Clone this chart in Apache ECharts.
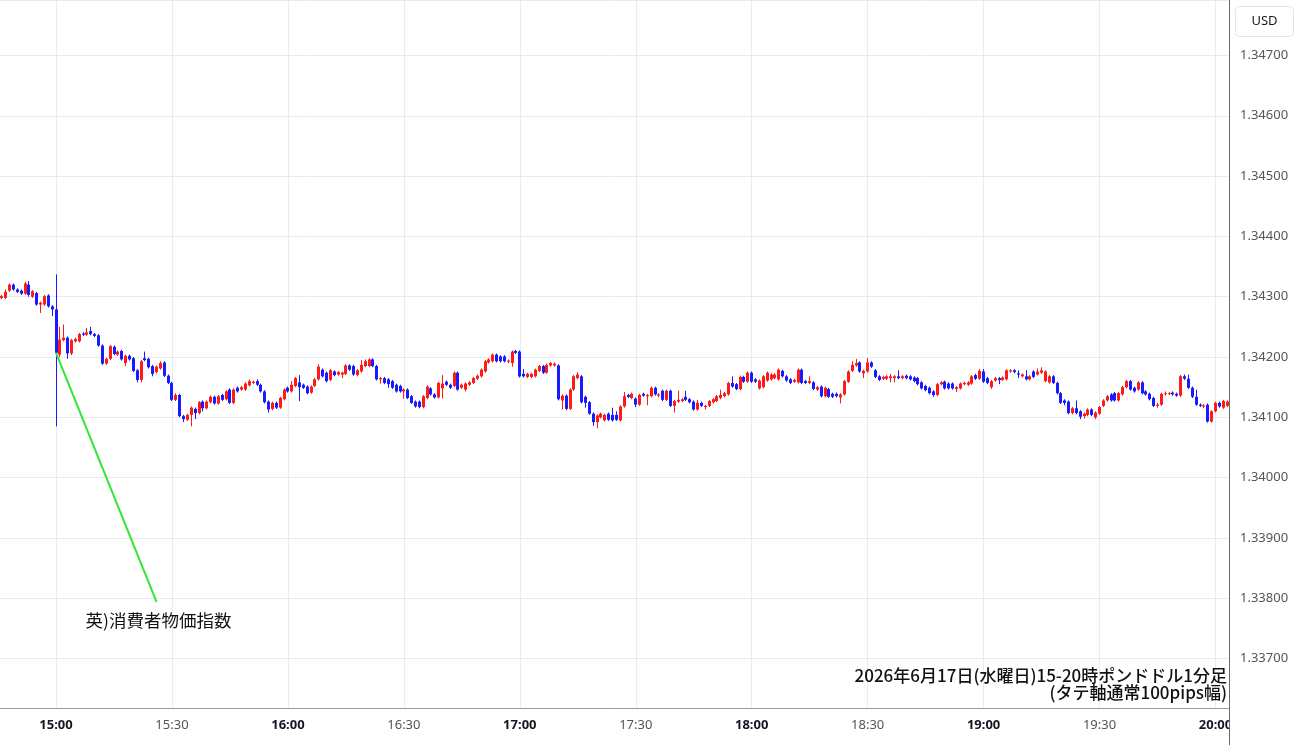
<!DOCTYPE html>
<html lang="ja">
<head>
    <meta charset="UTF-8">
    <title>ポンドドル1分足</title>
    <script src="https://cdn.jsdelivr.net/npm/echarts@6/dist/echarts.min.js"></script>
    <style>
        html, body { margin: 0; padding: 0; background: #fff; }
        #chart { width: 1300px; height: 745px; }
    </style>
</head>
<body>
<div id="chart"></div>
<script>
    // 1分足 14:46 - 20:03
    var times = []
    for (var m = 14 * 60 + 46; m <= 20 * 60 + 3; m++) {
        var hh = Math.floor(m / 60), mm = m % 60
        times.push((hh < 10 ? '0' : '') + hh + ':' + (mm < 10 ? '0' : '') + mm)
    }

    var opens = [
        1.34298,1.34298,1.34310,1.34320,1.34312,1.34310,1.34305,1.34320,1.34300,1.34306,
        1.34287,1.34287,1.34302,1.34284,1.34279,1.34204,1.34228,1.34232,1.34206,1.34226,
        1.34226,1.34239,1.34237,1.34243,1.34238,1.34236,1.34219,1.34189,1.34197,1.34217,
        1.34204,1.34210,1.34190,1.34202,1.34198,1.34178,1.34162,1.34198,1.34197,1.34185,
        1.34175,1.34181,1.34191,1.34169,1.34157,1.34129,1.34137,1.34102,1.34096,1.34104,
        1.34114,1.34107,1.34126,1.34115,1.34125,1.34134,1.34123,1.34137,1.34130,1.34146,
        1.34124,1.34149,1.34146,1.34146,1.34153,1.34157,1.34160,1.34154,1.34143,1.34126,
        1.34114,1.34124,1.34116,1.34130,1.34149,1.34143,1.34152,1.34158,1.34154,1.34151,
        1.34141,1.34152,1.34163,1.34179,1.34174,1.34162,1.34176,1.34171,1.34171,1.34172,
        1.34186,1.34185,1.34170,1.34176,1.34185,1.34185,1.34196,1.34185,1.34163,1.34165,
        1.34163,1.34160,1.34154,1.34152,1.34143,1.34146,1.34135,1.34126,1.34126,1.34117,
        1.34132,1.34148,1.34138,1.34133,1.34148,1.34159,1.34154,1.34152,1.34174,1.34149,
        1.34146,1.34154,1.34157,1.34164,1.34168,1.34176,1.34191,1.34193,1.34204,1.34201,
        1.34201,1.34192,1.34190,1.34210,1.34209,1.34172,1.34167,1.34167,1.34168,1.34177,
        1.34185,1.34174,1.34186,1.34186,1.34186,1.34128,1.34136,1.34114,1.34146,1.34165,
        1.34168,1.34134,1.34125,1.34106,1.34092,1.34100,1.34095,1.34106,1.34104,1.34104,
        1.34095,1.34118,1.34137,1.34132,1.34131,1.34121,1.34139,1.34135,1.34135,1.34149,
        1.34136,1.34144,1.34129,1.34144,1.34119,1.34126,1.34127,1.34134,1.34130,1.34126,
        1.34113,1.34124,1.34117,1.34119,1.34125,1.34127,1.34132,1.34135,1.34138,1.34157,
        1.34155,1.34147,1.34167,1.34159,1.34174,1.34163,1.34148,1.34150,1.34161,1.34163,
        1.34165,1.34163,1.34177,1.34168,1.34163,1.34159,1.34158,1.34179,1.34160,1.34157,
        1.34158,1.34146,1.34151,1.34135,1.34147,1.34139,1.34139,1.34133,1.34138,1.34159,
        1.34177,1.34186,1.34191,1.34173,1.34176,1.34191,1.34178,1.34168,1.34164,1.34164,
        1.34165,1.34165,1.34168,1.34165,1.34169,1.34168,1.34166,1.34165,1.34158,1.34152,
        1.34149,1.34143,1.34137,1.34155,1.34159,1.34156,1.34156,1.34147,1.34148,1.34155,
        1.34154,1.34156,1.34170,1.34164,1.34176,1.34165,1.34150,1.34161,1.34165,1.34162,
        1.34163,1.34176,1.34178,1.34173,1.34168,1.34168,1.34163,1.34176,1.34171,1.34174,
        1.34160,1.34158,1.34168,1.34157,1.34140,1.34128,1.34126,1.34107,1.34115,1.34110,
        1.34102,1.34104,1.34113,1.34100,1.34106,1.34119,1.34128,1.34138,1.34140,1.34128,
        1.34138,1.34150,1.34160,1.34149,1.34146,1.34158,1.34143,1.34139,1.34132,1.34119,
        1.34121,1.34139,1.34139,1.34141,1.34139,1.34136,1.34168,1.34164,1.34149,1.34134,
        1.34121,1.34118,1.34121,1.34093,1.34110,1.34124,1.34116,1.34119
    ]
    var closes = [
        1.34301,1.34308,1.34320,1.34312,1.34308,1.34305,1.34322,1.34303,1.34309,1.34287,
        1.34290,1.34301,1.34284,1.34279,1.34207,1.34229,1.34232,1.34206,1.34228,1.34230,
        1.34238,1.34237,1.34241,1.34238,1.34235,1.34219,1.34189,1.34197,1.34218,1.34205,
        1.34209,1.34196,1.34202,1.34196,1.34177,1.34162,1.34193,1.34195,1.34183,1.34172,
        1.34184,1.34190,1.34169,1.34157,1.34129,1.34137,1.34102,1.34097,1.34104,1.34116,
        1.34107,1.34125,1.34115,1.34126,1.34134,1.34123,1.34135,1.34129,1.34143,1.34124,
        1.34146,1.34143,1.34150,1.34156,1.34160,1.34159,1.34154,1.34143,1.34125,1.34113,
        1.34124,1.34116,1.34132,1.34146,1.34143,1.34154,1.34165,1.34150,1.34149,1.34140,
        1.34151,1.34163,1.34184,1.34168,1.34160,1.34178,1.34170,1.34175,1.34174,1.34186,
        1.34179,1.34171,1.34178,1.34187,1.34193,1.34196,1.34185,1.34163,1.34165,1.34157,
        1.34155,1.34149,1.34143,1.34143,1.34146,1.34132,1.34124,1.34118,1.34117,1.34135,
        1.34151,1.34138,1.34133,1.34157,1.34156,1.34154,1.34149,1.34174,1.34146,1.34154,
        1.34156,1.34158,1.34165,1.34169,1.34179,1.34193,1.34196,1.34204,1.34193,1.34193,
        1.34193,1.34194,1.34209,1.34207,1.34168,1.34168,1.34172,1.34172,1.34179,1.34185,
        1.34174,1.34187,1.34190,1.34189,1.34130,1.34136,1.34114,1.34146,1.34168,1.34171,
        1.34125,1.34124,1.34106,1.34092,1.34103,1.34106,1.34104,1.34096,1.34095,1.34096,
        1.34118,1.34135,1.34134,1.34139,1.34121,1.34137,1.34136,1.34137,1.34149,1.34138,
        1.34138,1.34129,1.34144,1.34119,1.34127,1.34129,1.34130,1.34129,1.34125,1.34113,
        1.34124,1.34119,1.34119,1.34127,1.34130,1.34135,1.34137,1.34140,1.34157,1.34151,
        1.34147,1.34167,1.34159,1.34174,1.34159,1.34159,1.34161,1.34168,1.34174,1.34171,
        1.34171,1.34179,1.34168,1.34161,1.34157,1.34162,1.34179,1.34157,1.34157,1.34160,
        1.34147,1.34150,1.34135,1.34149,1.34134,1.34134,1.34135,1.34138,1.34160,1.34176,
        1.34187,1.34190,1.34176,1.34177,1.34191,1.34184,1.34167,1.34162,1.34167,1.34168,
        1.34168,1.34168,1.34165,1.34168,1.34165,1.34163,1.34160,1.34155,1.34148,1.34145,
        1.34140,1.34137,1.34155,1.34158,1.34148,1.34148,1.34148,1.34150,1.34156,1.34157,
        1.34158,1.34168,1.34164,1.34177,1.34159,1.34157,1.34160,1.34165,1.34162,1.34166,
        1.34178,1.34178,1.34175,1.34171,1.34171,1.34163,1.34168,1.34167,1.34176,1.34178,
        1.34176,1.34168,1.34157,1.34140,1.34124,1.34124,1.34107,1.34115,1.34107,1.34101,
        1.34106,1.34113,1.34104,1.34108,1.34117,1.34128,1.34135,1.34128,1.34128,1.34140,
        1.34150,1.34160,1.34146,1.34143,1.34158,1.34140,1.34138,1.34130,1.34119,1.34121,
        1.34139,1.34140,1.34140,1.34138,1.34136,1.34168,1.34164,1.34149,1.34134,1.34121,
        1.34119,1.34120,1.34093,1.34110,1.34124,1.34118,1.34127,1.34126
    ]
    var lows = [
        1.34296,1.34296,1.34308,1.34310,1.34306,1.34303,1.34303,1.34300,1.34298,1.34285,
        1.34273,1.34285,1.34282,1.34268,1.34085,1.34200,1.34226,1.34197,1.34203,1.34224,
        1.34224,1.34235,1.34235,1.34236,1.34233,1.34217,1.34187,1.34187,1.34195,1.34203,
        1.34202,1.34194,1.34185,1.34194,1.34175,1.34158,1.34158,1.34193,1.34181,1.34168,
        1.34173,1.34179,1.34167,1.34155,1.34127,1.34127,1.34100,1.34092,1.34094,1.34085,
        1.34097,1.34105,1.34110,1.34113,1.34123,1.34121,1.34121,1.34127,1.34128,1.34122,
        1.34122,1.34141,1.34144,1.34144,1.34151,1.34155,1.34152,1.34141,1.34123,1.34108,
        1.34112,1.34114,1.34114,1.34128,1.34141,1.34141,1.34150,1.34127,1.34147,1.34138,
        1.34139,1.34150,1.34161,1.34166,1.34158,1.34160,1.34168,1.34169,1.34165,1.34170,
        1.34177,1.34169,1.34168,1.34174,1.34183,1.34183,1.34183,1.34161,1.34156,1.34155,
        1.34149,1.34147,1.34141,1.34141,1.34131,1.34130,1.34122,1.34116,1.34115,1.34115,
        1.34130,1.34136,1.34131,1.34131,1.34131,1.34152,1.34147,1.34150,1.34144,1.34147,
        1.34143,1.34152,1.34155,1.34162,1.34166,1.34174,1.34189,1.34191,1.34191,1.34191,
        1.34191,1.34190,1.34184,1.34205,1.34166,1.34166,1.34165,1.34165,1.34166,1.34175,
        1.34172,1.34172,1.34184,1.34184,1.34128,1.34113,1.34112,1.34112,1.34144,1.34163,
        1.34123,1.34116,1.34104,1.34086,1.34082,1.34098,1.34093,1.34094,1.34093,1.34094,
        1.34093,1.34116,1.34132,1.34130,1.34117,1.34119,1.34134,1.34120,1.34133,1.34136,
        1.34133,1.34127,1.34127,1.34117,1.34108,1.34124,1.34125,1.34127,1.34123,1.34111,
        1.34111,1.34117,1.34113,1.34117,1.34123,1.34125,1.34130,1.34133,1.34136,1.34149,
        1.34145,1.34145,1.34157,1.34157,1.34157,1.34157,1.34146,1.34148,1.34159,1.34161,
        1.34163,1.34161,1.34166,1.34159,1.34155,1.34157,1.34156,1.34155,1.34155,1.34155,
        1.34145,1.34144,1.34133,1.34133,1.34132,1.34132,1.34133,1.34123,1.34136,1.34157,
        1.34175,1.34184,1.34174,1.34165,1.34174,1.34182,1.34165,1.34160,1.34162,1.34162,
        1.34158,1.34158,1.34163,1.34163,1.34163,1.34161,1.34158,1.34153,1.34146,1.34143,
        1.34138,1.34134,1.34135,1.34153,1.34146,1.34146,1.34146,1.34142,1.34146,1.34153,
        1.34152,1.34154,1.34162,1.34162,1.34157,1.34155,1.34147,1.34159,1.34155,1.34160,
        1.34161,1.34174,1.34173,1.34165,1.34166,1.34161,1.34161,1.34165,1.34169,1.34172,
        1.34158,1.34156,1.34155,1.34138,1.34122,1.34120,1.34105,1.34105,1.34105,1.34097,
        1.34098,1.34102,1.34102,1.34097,1.34104,1.34117,1.34126,1.34126,1.34126,1.34126,
        1.34136,1.34148,1.34144,1.34141,1.34144,1.34138,1.34136,1.34128,1.34117,1.34116,
        1.34119,1.34136,1.34137,1.34136,1.34134,1.34134,1.34162,1.34147,1.34132,1.34119,
        1.34117,1.34115,1.34091,1.34091,1.34108,1.34116,1.34114,1.34117
    ]
    var highs = [
        1.34303,1.34312,1.34322,1.34322,1.34314,1.34312,1.34325,1.34326,1.34311,1.34308,
        1.34292,1.34303,1.34304,1.34286,1.34337,1.34250,1.34254,1.34234,1.34230,1.34232,
        1.34240,1.34241,1.34248,1.34250,1.34240,1.34238,1.34221,1.34199,1.34220,1.34219,
        1.34211,1.34212,1.34204,1.34204,1.34200,1.34180,1.34195,1.34209,1.34199,1.34187,
        1.34186,1.34193,1.34193,1.34171,1.34159,1.34140,1.34139,1.34104,1.34106,1.34118,
        1.34116,1.34127,1.34128,1.34128,1.34136,1.34136,1.34137,1.34139,1.34145,1.34148,
        1.34148,1.34151,1.34152,1.34158,1.34163,1.34161,1.34163,1.34156,1.34145,1.34128,
        1.34126,1.34126,1.34134,1.34148,1.34151,1.34160,1.34167,1.34170,1.34156,1.34153,
        1.34153,1.34165,1.34188,1.34181,1.34176,1.34180,1.34178,1.34177,1.34176,1.34188,
        1.34188,1.34187,1.34180,1.34195,1.34196,1.34198,1.34198,1.34187,1.34167,1.34167,
        1.34165,1.34162,1.34156,1.34154,1.34148,1.34148,1.34137,1.34128,1.34128,1.34137,
        1.34153,1.34150,1.34140,1.34159,1.34170,1.34161,1.34156,1.34176,1.34176,1.34156,
        1.34158,1.34160,1.34167,1.34171,1.34181,1.34195,1.34198,1.34206,1.34206,1.34203,
        1.34203,1.34196,1.34211,1.34212,1.34211,1.34180,1.34174,1.34174,1.34181,1.34187,
        1.34187,1.34189,1.34192,1.34191,1.34188,1.34138,1.34138,1.34148,1.34170,1.34175,
        1.34170,1.34136,1.34127,1.34108,1.34105,1.34108,1.34106,1.34108,1.34116,1.34110,
        1.34120,1.34142,1.34139,1.34141,1.34133,1.34139,1.34141,1.34139,1.34151,1.34151,
        1.34140,1.34146,1.34146,1.34146,1.34129,1.34144,1.34132,1.34144,1.34132,1.34128,
        1.34129,1.34126,1.34121,1.34129,1.34132,1.34137,1.34146,1.34142,1.34159,1.34168,
        1.34157,1.34169,1.34169,1.34176,1.34176,1.34165,1.34163,1.34170,1.34176,1.34173,
        1.34173,1.34181,1.34179,1.34170,1.34165,1.34164,1.34181,1.34181,1.34162,1.34168,
        1.34160,1.34152,1.34153,1.34151,1.34149,1.34141,1.34141,1.34140,1.34162,1.34178,
        1.34193,1.34197,1.34193,1.34179,1.34198,1.34193,1.34180,1.34170,1.34169,1.34170,
        1.34172,1.34170,1.34178,1.34170,1.34171,1.34170,1.34168,1.34167,1.34160,1.34154,
        1.34151,1.34145,1.34157,1.34160,1.34161,1.34158,1.34158,1.34152,1.34158,1.34159,
        1.34160,1.34170,1.34172,1.34180,1.34180,1.34167,1.34162,1.34167,1.34167,1.34168,
        1.34180,1.34180,1.34180,1.34178,1.34173,1.34178,1.34170,1.34178,1.34181,1.34183,
        1.34178,1.34170,1.34170,1.34159,1.34142,1.34130,1.34128,1.34117,1.34128,1.34112,
        1.34108,1.34115,1.34115,1.34110,1.34119,1.34130,1.34137,1.34140,1.34142,1.34142,
        1.34152,1.34162,1.34162,1.34151,1.34160,1.34160,1.34145,1.34141,1.34134,1.34124,
        1.34141,1.34143,1.34142,1.34143,1.34141,1.34170,1.34171,1.34171,1.34151,1.34146,
        1.34123,1.34122,1.34123,1.34112,1.34126,1.34126,1.34129,1.34128
    ]

    // 英)消費者物価指数 の発表 (15:00) と注記位置
    var eventTime = '15:00'
    var eventPrice = 1.34207
    var noteTime = '15:26'
    var noteLinePrice = 1.33794
    var noteTextPrice = 1.33764
    var noteText = '英)消費者物価指数'
    var titleText = '2026年6月17日(水曜日)15-20時ポンドドル1分足\n(タテ軸通常100pips幅)'

    var UP = '#ff1a1a'
    var DOWN = '#1a1aff'

    // [index, open, close, low, high]
    var candles = []
    for (var i = 0; i < times.length; i++) {
        candles.push([i, opens[i], closes[i], lows[i], highs[i]])
    }

    function renderCandle(params, api) {
        var idx = api.value(0)
        var o = api.value(1), c = api.value(2), l = api.value(3), h = api.value(4)
        var pO = api.coord([idx, o])
        var pC = api.coord([idx, c])
        var pL = api.coord([idx, l])
        var pH = api.coord([idx, h])
        var color = c >= o ? UP : DOWN
        var xr = Math.round(pO[0] - 1.5)
        var top = Math.min(pO[1], pC[1])
        var hgt = Math.max(1, Math.abs(pO[1] - pC[1]))
        return {
            type: 'group',
            children: [
                {
                    type: 'line',
                    shape: { x1: xr + 1.5, y1: pH[1], x2: xr + 1.5, y2: pL[1] },
                    style: { stroke: color, lineWidth: 1 }
                },
                {
                    type: 'rect',
                    shape: { x: xr, y: top, width: 3, height: hgt },
                    style: { fill: color }
                }
            ]
        }
    }

    function halfHour(idx, val) {
        var v = typeof val === 'string' ? val : times[idx]
        return v.slice(3) === '00' || v.slice(3) === '30'
    }

    var myChart = echarts.init(document.getElementById('chart'))
    myChart.setOption({
        animation: false,
        backgroundColor: '#ffffff',
        textStyle: { fontFamily: "'Noto Sans', 'Noto Sans CJK JP', sans-serif" },
        grid: { left: 0, right: 71, top: 0, bottom: 37 },
        xAxis: {
            type: 'category',
            data: times,
            boundaryGap: true,
            axisLine: { lineStyle: { color: '#9a9a9a', width: 1 } },
            axisTick: { show: false, alignWithLabel: true },
            axisLabel: {
                interval: halfHour,
                margin: 11,
                formatter: function (v) {
                    return v.slice(3) === '00' ? '{b|' + v + '}' : '{n|' + v + '}'
                },
                rich: {
                    b: { fontWeight: 'bold', color: '#131722', fontSize: 13, fontFamily: 'Noto Sans' },
                    n: { color: '#555555', fontSize: 13, fontFamily: 'Noto Sans' }
                }
            },
            splitLine: {
                show: true,
                interval: halfHour,
                alignWithLabel: true,
                lineStyle: { color: '#e6ecf1', width: 1 }
            }
        },
        yAxis: {
            type: 'value',
            position: 'right',
            min: 1.33618,
            max: 1.34792,
            splitNumber: 11,
            axisLine: { show: true, lineStyle: { color: '#6b6b6b', width: 1 } },
            axisTick: { show: false },
            axisLabel: {
                color: '#555555',
                fontSize: 13,
                margin: 11,
                showMinLabel: false,
                showMaxLabel: false,
                formatter: function (v) { return v.toFixed(5) }
            },
            splitLine: { lineStyle: { color: '#e6ecf1', width: 1 } }
        },
        series: [
            {
                type: 'custom',
                name: 'GBPUSD',
                data: candles,
                encode: { x: 0, y: [1, 2, 3, 4] },
                renderItem: renderCandle,
                z: 3
            },
            {
                // 注記 (線とテキスト)
                type: 'line',
                data: [],
                z: 4,
                markLine: {
                    silent: true,
                    symbol: ['none', 'none'],
                    label: { show: false },
                    lineStyle: { color: '#33e633', width: 2, type: 'solid' },
                    data: [[
                        { coord: [eventTime, eventPrice] },
                        { coord: [noteTime, noteLinePrice] }
                    ]]
                },
                markPoint: {
                    silent: true,
                    symbol: 'rect',
                    symbolSize: 1,
                    itemStyle: { color: 'rgba(0,0,0,0)' },
                    label: {
                        show: true,
                        position: 'inside',
                        offset: [2, 0],
                        color: '#111111',
                        fontSize: 17.5,
                        fontFamily: "'Noto Sans CJK JP', sans-serif",
                        formatter: noteText
                    },
                    data: [{ coord: [noteTime, noteTextPrice] }]
                }
            }
        ],
        graphic: [
            {
                type: 'text',
                right: 73,
                top: 667,
                z: 100,
                style: {
                    text: titleText,
                    textAlign: 'right',
                    fill: '#111111',
                    font: "500 17px 'Noto Sans CJK JP', sans-serif",
                    lineHeight: 17
                }
            },
            {
                type: 'rect',
                z: 90,
                shape: { x: 1230, y: 712, width: 70, height: 33 },
                style: { fill: '#ffffff' }
            },
            {
                type: 'line',
                z: 91,
                shape: { x1: 1229.5, y1: 708, x2: 1229.5, y2: 745 },
                style: { stroke: '#6b6b6b', lineWidth: 1 }
            },
            {
                type: 'group',
                left: 1235,
                top: 6,
                z: 100,
                children: [
                    {
                        type: 'rect',
                        shape: { x: 0, y: 0, width: 58, height: 30, r: 4 },
                        style: { fill: '#ffffff', stroke: '#e0e3eb', lineWidth: 1 }
                    },
                    {
                        type: 'text',
                        x: 29,
                        y: 15,
                        style: {
                            text: 'USD',
                            textAlign: 'center',
                            textVerticalAlign: 'middle',
                            fill: '#131722',
                            font: "13px 'Noto Sans', sans-serif"
                        }
                    }
                ]
            }
        ]
    })
</script>
</body>
</html>
